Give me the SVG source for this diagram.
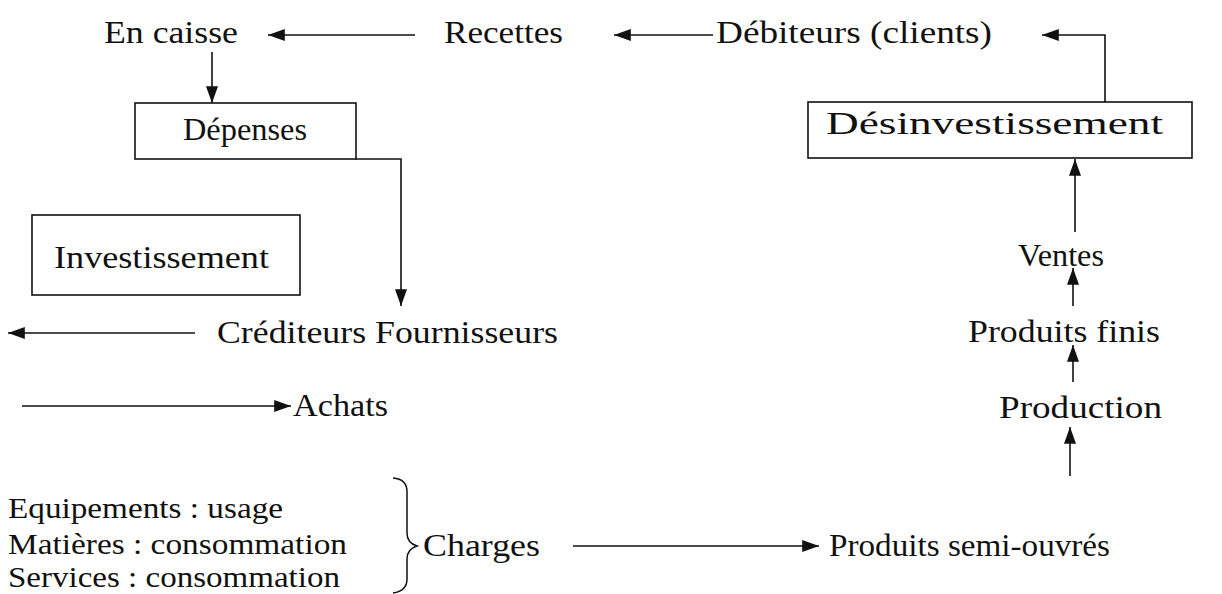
<svg xmlns="http://www.w3.org/2000/svg" width="1222" height="594" viewBox="0 0 1222 594">
<defs>
<style>
text{font-family:"Liberation Serif","Times New Roman",serif;font-size:31px;fill:#111;}
.sm{font-size:30px;}
.box{fill:#fff;stroke:#111;stroke-width:1.6;}
.ln{fill:none;stroke:#111;stroke-width:1.6;}
</style>
<marker id="ah" viewBox="0 0 14 10" refX="14" refY="5" markerWidth="17" markerHeight="12" markerUnits="userSpaceOnUse" orient="auto">
<path d="M0,0 L14,5 L0,10 Z" fill="#111"/>
</marker>
</defs>
<rect width="1222" height="594" fill="#fff"/>
<g id="connectors">
<path class="ln" d="M415,35 H268" marker-end="url(#ah)"/>
<path class="ln" d="M713,35 H614" marker-end="url(#ah)"/>
<path class="ln" d="M1105,102 V35 H1042" marker-end="url(#ah)"/>
<path class="ln" d="M212,52 V103" marker-end="url(#ah)"/>
<path class="ln" d="M356,159 H401 V306" marker-end="url(#ah)"/>
<path class="ln" d="M195,333 H8" marker-end="url(#ah)"/>
<path class="ln" d="M22,406 H291" marker-end="url(#ah)"/>
<path class="ln" d="M573,546 H819" marker-end="url(#ah)"/>
<path class="ln" d="M1070,476 V427" marker-end="url(#ah)"/>
<path class="ln" d="M1073,382 V345" marker-end="url(#ah)"/>
<path class="ln" d="M1073,306 V268" marker-end="url(#ah)"/>
<path class="ln" d="M1075,232 V159" marker-end="url(#ah)"/>
<path class="ln" d="M393,478 Q407,479 407,492 V533 Q407,543 417,546 Q407,549 407,559 V579 Q407,591 393,593" style="stroke-width:1.5"/>
</g>
<g id="en-caisse"><text x="104" y="43" textLength="134" lengthAdjust="spacingAndGlyphs">En caisse</text></g>
<g id="recettes"><text x="444" y="43" textLength="119" lengthAdjust="spacingAndGlyphs">Recettes</text></g>
<g id="debiteurs"><text x="716" y="43" textLength="276" lengthAdjust="spacingAndGlyphs">Débiteurs (clients)</text></g>
<g id="depenses"><rect class="box" x="135" y="103" width="221" height="56"/><text x="183" y="140" textLength="124" lengthAdjust="spacingAndGlyphs">Dépenses</text></g>
<g id="investissement"><rect class="box" x="32" y="215" width="268" height="80"/><text x="54" y="268" textLength="215" lengthAdjust="spacingAndGlyphs">Investissement</text></g>
<g id="desinvestissement"><rect class="box" x="808" y="102" width="384" height="56"/><text x="826" y="134" textLength="337" lengthAdjust="spacingAndGlyphs">Désinvestissement</text></g>
<g id="crediteurs"><text x="217" y="343" textLength="341" lengthAdjust="spacingAndGlyphs">Créditeurs Fournisseurs</text></g>
<g id="achats"><text x="293" y="416" textLength="95" lengthAdjust="spacingAndGlyphs">Achats</text></g>
<g id="ventes"><text x="1018" y="266" textLength="86" lengthAdjust="spacingAndGlyphs">Ventes</text></g>
<g id="produits-finis"><text x="968" y="342" textLength="192" lengthAdjust="spacingAndGlyphs">Produits finis</text></g>
<g id="production"><text x="999" y="418" textLength="163" lengthAdjust="spacingAndGlyphs">Production</text></g>
<g id="produits-semi"><text x="829" y="556" textLength="281" lengthAdjust="spacingAndGlyphs">Produits semi-ouvrés</text></g>
<g id="charges"><text x="423" y="556" textLength="117" lengthAdjust="spacingAndGlyphs">Charges</text></g>
<g id="equipements"><text class="sm" x="8" y="518" textLength="275" lengthAdjust="spacingAndGlyphs">Equipements : usage</text></g>
<g id="matieres"><text class="sm" x="8" y="554" textLength="339" lengthAdjust="spacingAndGlyphs">Matières : consommation</text></g>
<g id="services"><text class="sm" x="8" y="587" textLength="332" lengthAdjust="spacingAndGlyphs">Services : consommation</text></g>
</svg>
